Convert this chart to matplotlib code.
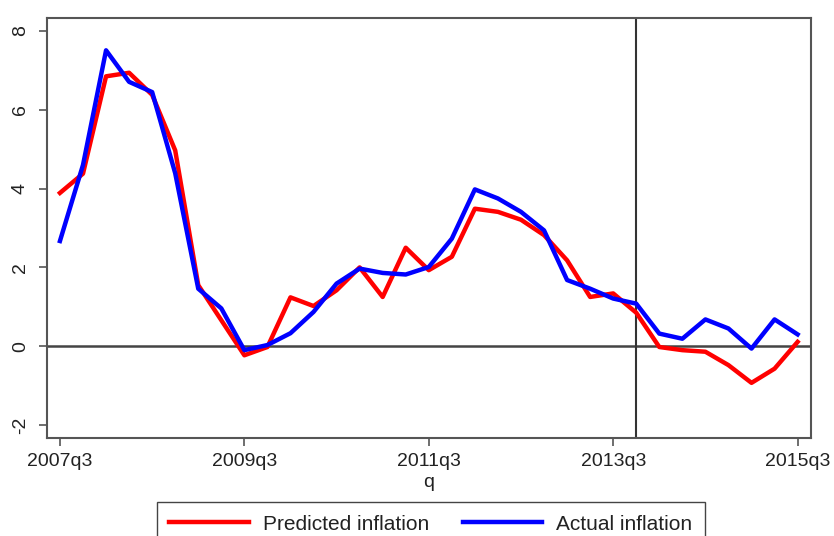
import numpy as np
import pandas as pd
import matplotlib.pyplot as plt

plt.rcParams['font.family'] = ['Liberation Sans', 'DejaVu Sans']
plt.rcParams['axes.unicode_minus'] = False

# quarterly inflation, 2007q3 - 2015q3
quarters = pd.period_range('2007Q3', '2015Q3', freq='Q')
predicted = [3.89, 4.38, 6.85, 6.94, 6.38, 4.97, 1.55, 0.66, -0.23, -0.02,
             1.24, 1.02, 1.42, 2.00, 1.25, 2.50, 1.93, 2.27, 3.49, 3.41,
             3.21, 2.82, 2.18, 1.25, 1.34, 0.85, -0.02, -0.10, -0.14, -0.48,
             -0.93, -0.57, 0.11]
actual = [2.67, 4.60, 7.51, 6.71, 6.45, 4.39, 1.46, 0.96, -0.10, 0.03,
          0.33, 0.87, 1.59, 1.97, 1.86, 1.82, 2.01, 2.73, 3.98, 3.75,
          3.41, 2.94, 1.68, 1.46, 1.21, 1.08, 0.32, 0.19, 0.68, 0.45,
          -0.06, 0.68, 0.30]
tick_quarters = ['2007Q3', '2009Q3', '2011Q3', '2013Q3', '2015Q3']
forecast_start = '2013Q4'

labels = [str(q).replace('Q', 'q') for q in quarters]
x = np.arange(len(quarters))
pos = {str(q): i for i, q in enumerate(quarters)}

fig = plt.figure(figsize=(8.34, 5.36), dpi=100)
ax = fig.add_axes([0.0564, 0.1828, 0.916, 0.7836])

ax.axhline(0, color='#444444', lw=1.8, zorder=1)
ax.axvline(pos[forecast_start], color='#333333', lw=1.5, zorder=1)

ax.plot(x, predicted, color='#ff0000', lw=3.2, label='Predicted inflation', zorder=2)
ax.plot(x, actual, color='#0000ff', lw=3.2, label='Actual inflation', zorder=3)

ax.set_xlim(-0.56, len(x) - 1 + 0.58)
ax.set_ylim(-2.33, 8.33)
ax.set_yticks([-2, 0, 2, 4, 6, 8])
ax.set_xticks([pos[t] for t in tick_quarters])
ax.set_xticklabels([labels[pos[t]] for t in tick_quarters])
for lab in ax.get_yticklabels():
    lab.set_rotation(90)
    lab.set_va('center')
ax.tick_params(axis='both', labelsize=14, length=6, width=1.2, color='#555555',
               labelcolor='#222222')
ax.tick_params(axis='x', pad=5)
ax.tick_params(axis='y', pad=7)
ax.set_xlabel('q', fontsize=14, labelpad=3, color='#222222')

for s in ax.spines.values():
    s.set_color('#555555')
    s.set_linewidth(1.5)

leg = fig.legend(loc='upper center', bbox_to_anchor=(0.5168, 1 - 502 / 536), ncol=2,
                 fontsize=15, handlelength=3.8, handletextpad=0.7, columnspacing=1.6,
                 fancybox=False, edgecolor='#444444', framealpha=1, borderpad=0.6,
                 borderaxespad=0, labelcolor='#222222')
leg.get_frame().set_linewidth(1.0)

fig.savefig('out.png', dpi=100)
